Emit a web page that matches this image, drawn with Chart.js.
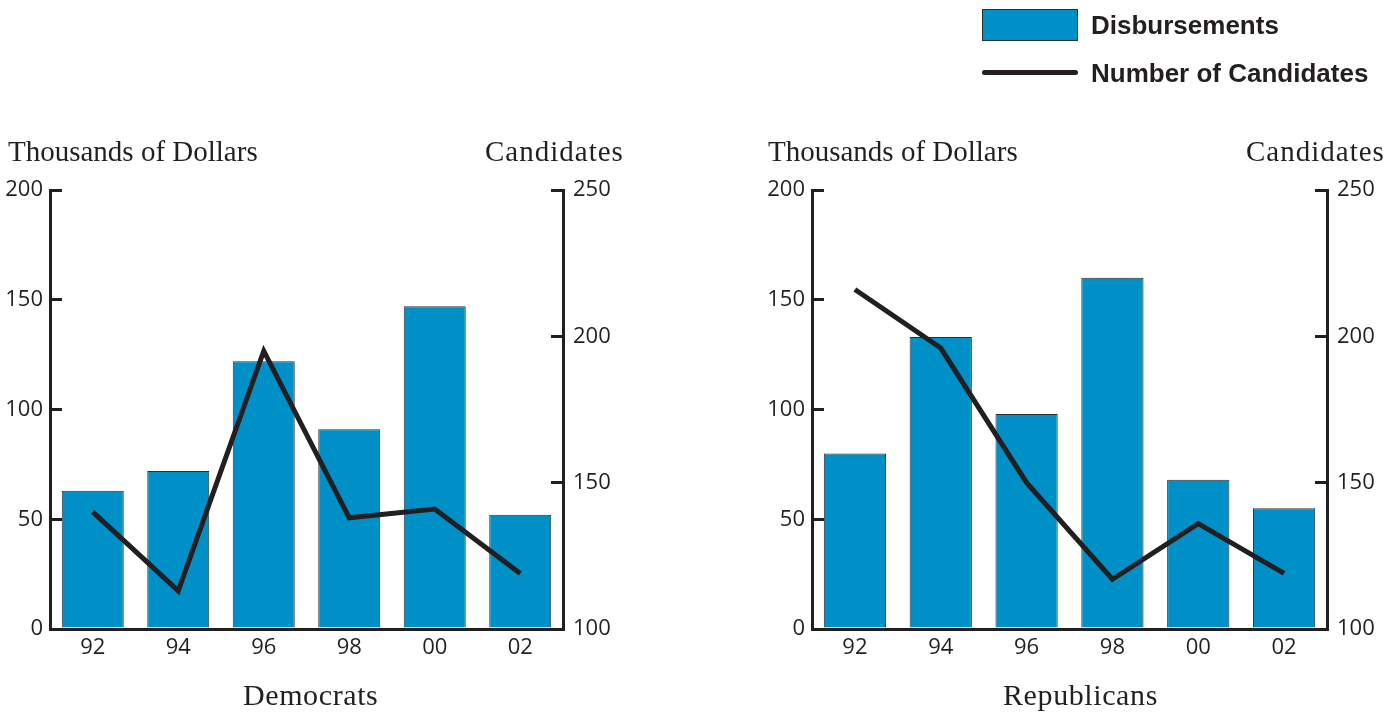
<!DOCTYPE html>
<html>
<head>
<meta charset="utf-8">
<script src="https://cdn.jsdelivr.net/npm/chart.js@4"></script>
<style>
  html, body { margin: 0; padding: 0; background: #fff; }
  body { width: 1400px; height: 713px; position: relative; overflow: hidden; }
  .box { position: absolute; top: 0; width: 700px; height: 713px; }
  .txt { position: absolute; white-space: nowrap; color: #231f20; line-height: 1; }
  .serif { font-family: "Liberation Serif", "DejaVu Serif", serif; font-size: 29px; }
  .sub { font-family: "Liberation Serif", "DejaVu Serif", serif; font-size: 30px; letter-spacing: 0.6px; }
  .leg { font-family: "Liberation Sans", Arial, sans-serif; font-weight: bold; font-size: 26px; }
</style>
</head>
<body>
<div class="box" style="left:0"><canvas id="dem"></canvas></div>
<div class="box" style="left:700px"><canvas id="rep"></canvas></div>

<div class="txt serif" style="left:8px; top:137px">Thousands of Dollars</div>
<div class="txt serif" style="left:485px; top:137px; letter-spacing:1px">Candidates</div>
<div class="txt serif" style="left:768px; top:137px">Thousands of Dollars</div>
<div class="txt serif" style="left:1246px; top:137px; letter-spacing:1px">Candidates</div>
<div class="txt sub" style="left:243px; top:680px">Democrats</div>
<div class="txt sub" style="left:1003px; top:680px">Republicans</div>

<div style="position:absolute; left:982px; top:9px; width:94px; height:30px; background:#0090c8; border:1px solid #2e2e2e;"></div>
<div class="txt leg" style="left:1091px; top:12px">Disbursements</div>
<div style="position:absolute; left:982px; top:70px; width:96px; height:5px; background:#231f20; border-radius:3px;"></div>
<div class="txt leg" style="left:1091px; top:60px">Number of Candidates</div>

<script>
const years = ["92", "94", "96", "98", "00", "02"];
const demDisbursements = [63, 72, 122, 91, 147, 52];
const demCandidates = [140, 113, 195, 138, 141, 119];
const repDisbursements = [80, 133, 98, 160, 68, 55];
const repCandidates = [216, 196, 150, 117, 136, 119];
const dollarTicks = [0, 50, 100, 150, 200];
const candidateTicks = [100, 150, 200, 250];

const INK = '#231f20';
const BAR = '#0090c8';
const tickFont = { family: '"Open Sans", "Noto Sans", sans-serif', size: 22 };

function makeChart(id, bars, line, pad) {
  return new Chart(document.getElementById(id), {
    type: 'bar',
    data: {
      labels: years,
      datasets: [
        {
          type: 'line', label: 'Number of Candidates', data: line, yAxisID: 'y1',
          borderColor: INK, borderWidth: 5, pointRadius: 0, tension: 0,
          borderJoinStyle: 'miter', borderCapStyle: 'butt', order: 0, fill: false
        },
        {
          type: 'bar', label: 'Disbursements', data: bars, yAxisID: 'y',
          backgroundColor: BAR, borderColor: '#2e2e2e', borderWidth: 1,
          categoryPercentage: 1, barPercentage: 0.725, order: 1
        }
      ]
    },
    options: {
      responsive: true, maintainAspectRatio: false, animation: false,
      layout: { padding: pad },
      plugins: { legend: { display: false }, tooltip: { enabled: false } },
      scales: {
        x: {
          offset: true,
          grid: { display: true, drawOnChartArea: false, drawTicks: false },
          border: { display: true, color: INK, width: 3 },
          ticks: { font: tickFont, color: INK, padding: 6, maxRotation: 0 },
          afterFit: s => { s.height = 40; }
        },
        y: {
          position: 'left', min: 0, max: 200,
          afterBuildTicks: s => { s.ticks = dollarTicks.map(v => ({ value: v })); },
          grid: { drawOnChartArea: false, drawTicks: true, tickLength: -12, color: INK, lineWidth: 3 },
          border: { display: true, color: INK, width: 3 },
          ticks: { font: tickFont, color: INK, padding: 19 },
          afterFit: s => { s.width = 50; }
        },
        y1: {
          position: 'right', min: 100, max: 250,
          afterBuildTicks: s => { s.ticks = candidateTicks.map(v => ({ value: v })); },
          grid: { drawOnChartArea: false, drawTicks: true, tickLength: -12, color: INK, lineWidth: 3 },
          border: { display: true, color: INK, width: 3 },
          ticks: { font: tickFont, color: INK, padding: 22 },
          afterFit: s => { s.width = 60; }
        }
      }
    }
  });
}

makeChart('dem', demDisbursements, demCandidates, { left: 0, right: 77, top: 190, bottom: 44 });
makeChart('rep', repDisbursements, repCandidates, { left: 62, right: 13, top: 190, bottom: 44 });
</script>
</body>
</html>
